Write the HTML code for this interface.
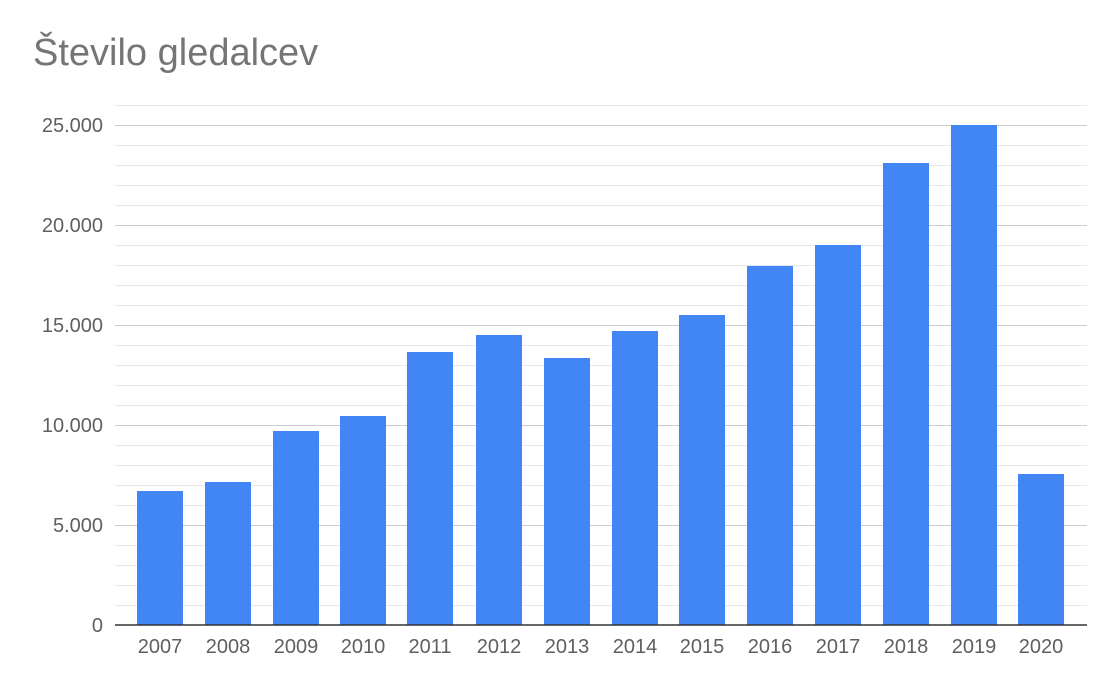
<!DOCTYPE html>
<html><head><meta charset="utf-8"><style>
html,body{margin:0;padding:0;background:#fff;width:1118px;height:689px;overflow:hidden}
svg text{font-family:"Liberation Sans",sans-serif}
</style></head><body>
<svg width="1118" height="689" xmlns="http://www.w3.org/2000/svg">
<text x="33" y="65" font-size="38" fill="#757575">Število gledalcev</text>
<g stroke="#e8e8e8" stroke-width="1">
<line x1="115" x2="1087" y1="105.5" y2="105.5"/>
<line x1="115" x2="1087" y1="145.5" y2="145.5"/><line x1="115" x2="1087" y1="165.5" y2="165.5"/><line x1="115" x2="1087" y1="185.5" y2="185.5"/><line x1="115" x2="1087" y1="205.5" y2="205.5"/>
<line x1="115" x2="1087" y1="245.5" y2="245.5"/><line x1="115" x2="1087" y1="265.5" y2="265.5"/><line x1="115" x2="1087" y1="285.5" y2="285.5"/><line x1="115" x2="1087" y1="305.5" y2="305.5"/>
<line x1="115" x2="1087" y1="345.5" y2="345.5"/><line x1="115" x2="1087" y1="365.5" y2="365.5"/><line x1="115" x2="1087" y1="385.5" y2="385.5"/><line x1="115" x2="1087" y1="405.5" y2="405.5"/>
<line x1="115" x2="1087" y1="445.5" y2="445.5"/><line x1="115" x2="1087" y1="465.5" y2="465.5"/><line x1="115" x2="1087" y1="485.5" y2="485.5"/><line x1="115" x2="1087" y1="505.5" y2="505.5"/>
<line x1="115" x2="1087" y1="545.5" y2="545.5"/><line x1="115" x2="1087" y1="565.5" y2="565.5"/><line x1="115" x2="1087" y1="585.5" y2="585.5"/><line x1="115" x2="1087" y1="605.5" y2="605.5"/>
</g>
<g stroke="#cccccc" stroke-width="1">
<line x1="115" x2="1087" y1="125.5" y2="125.5"/><line x1="115" x2="1087" y1="225.5" y2="225.5"/><line x1="115" x2="1087" y1="325.5" y2="325.5"/><line x1="115" x2="1087" y1="425.5" y2="425.5"/><line x1="115" x2="1087" y1="525.5" y2="525.5"/>
</g>
<g fill="#4285f4">
<rect x="137" y="491" width="46" height="134"/>
<rect x="205" y="482" width="46" height="143"/>
<rect x="273" y="431" width="46" height="194"/>
<rect x="340" y="416" width="46" height="209"/>
<rect x="407" y="352" width="46" height="273"/>
<rect x="476" y="335" width="46" height="290"/>
<rect x="544" y="358" width="46" height="267"/>
<rect x="612" y="331" width="46" height="294"/>
<rect x="679" y="315" width="46" height="310"/>
<rect x="747" y="266" width="46" height="359"/>
<rect x="815" y="245" width="46" height="380"/>
<rect x="883" y="163" width="46" height="462"/>
<rect x="951" y="125" width="46" height="500"/>
<rect x="1018" y="474" width="46" height="151"/>
</g>
<line x1="115" x2="1087" y1="625" y2="625" stroke="#333" stroke-width="1.5"/>
<g font-size="20" fill="#5f5f5f" text-anchor="end">
<text x="103" y="132">25.000</text><text x="103" y="232">20.000</text><text x="103" y="332">15.000</text><text x="103" y="432">10.000</text><text x="103" y="532">5.000</text><text x="103" y="632">0</text>
</g>
<g font-size="20" fill="#5f5f5f" text-anchor="middle">
<text x="160" y="653">2007</text><text x="228" y="653">2008</text><text x="296" y="653">2009</text><text x="363" y="653">2010</text><text x="430" y="653">2011</text><text x="499" y="653">2012</text><text x="567" y="653">2013</text><text x="635" y="653">2014</text><text x="702" y="653">2015</text><text x="770" y="653">2016</text><text x="838" y="653">2017</text><text x="906" y="653">2018</text><text x="974" y="653">2019</text><text x="1041" y="653">2020</text>
</g>
</svg>
</body></html>
